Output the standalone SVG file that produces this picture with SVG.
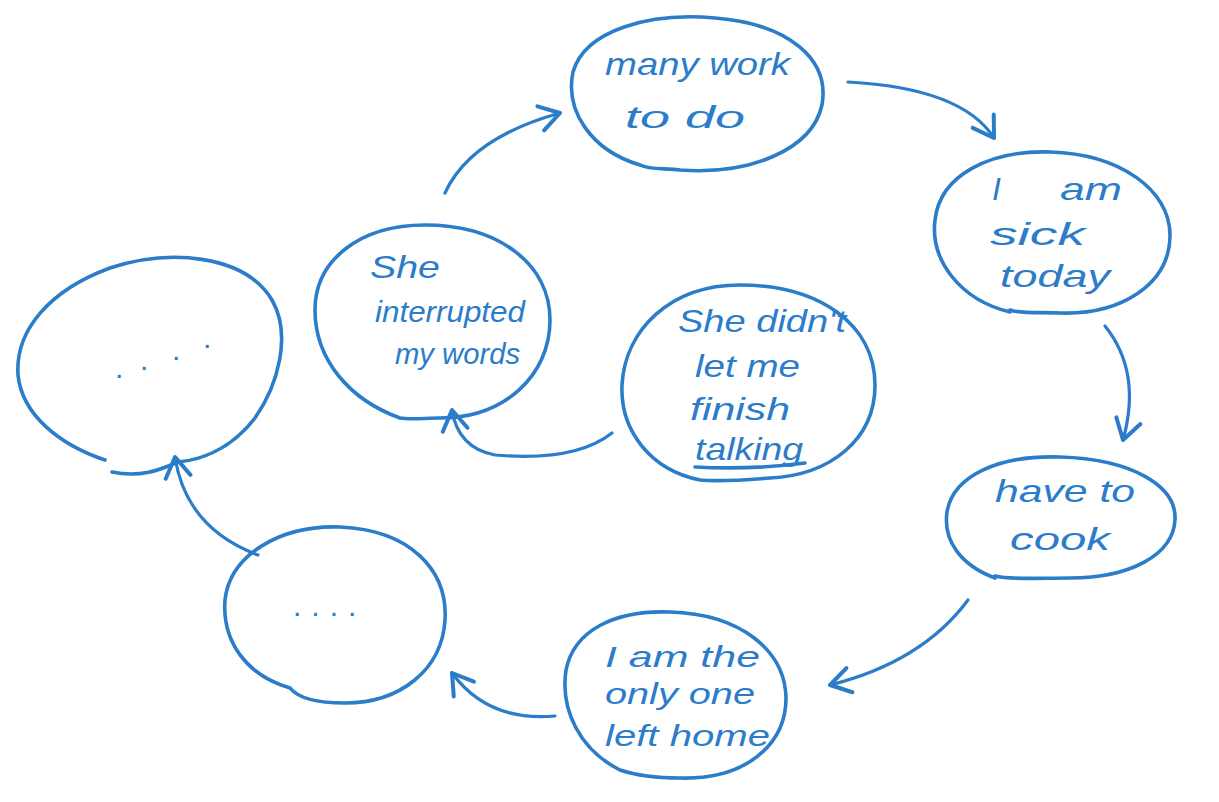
<svg xmlns="http://www.w3.org/2000/svg" width="1219" height="802" viewBox="0 0 1219 802">
<defs>
<marker id="arr" markerWidth="30" markerHeight="30" refX="0" refY="0" viewBox="-20 -12 24 24" markerUnits="userSpaceOnUse" orient="auto">
<path d="M-16,-10 L0,0 L-16,10" fill="none" stroke="#2b7cc9" stroke-width="3.2" stroke-linecap="round" stroke-linejoin="round"/>
</marker>
<style>
.n{fill:none;stroke:#2b7cc9;stroke-width:3.6;stroke-linecap:round;stroke-linejoin:round}
.c{fill:none;stroke:#2b7cc9;stroke-width:3.2;stroke-linecap:round;marker-end:url(#arr)}
.t{font-family:"Liberation Sans",Arial,sans-serif;font-style:italic;fill:#2b7cc9;font-size:32px}
.s{font-size:30px}
.d{font-family:"Liberation Sans",Arial,sans-serif;fill:#2b7cc9;font-size:30px}
</style>
</defs>
<rect width="1219" height="802" fill="#ffffff"/>
<g id="connectors">
<path class="c" d="M445,193 Q470,138 560,113"/>
<path class="c" d="M848,82 Q962,88 994,138"/>
<path class="c" d="M1105,326 Q1142,372 1123,440"/>
<path class="c" d="M968,600 Q922,662 830,685"/>
<path class="c" d="M555,716 Q488,722 452,673"/>
<path class="c" d="M258,555 Q186,528 175,457"/>
<path class="c" d="M612,433 Q575,462 495,455 Q458,448 452,410"/>
</g>
<g id="node-many-work">
<path class="n" d="M640,165 C590,150 565,110 573,72 C585,30 650,12 715,18 C790,24 830,60 822,105 C812,150 750,175 680,170 C665,168 650,170 640,165"/>
<text class="t" x="605" y="75" textLength="185" lengthAdjust="spacingAndGlyphs">many work</text>
<text class="t" x="625" y="128" textLength="120" lengthAdjust="spacingAndGlyphs">to do</text>
</g>
<g id="node-sick">
<path class="n" d="M1010,312 C960,300 930,260 935,220 C940,175 990,150 1050,152 C1120,154 1170,190 1170,235 C1170,285 1120,315 1060,313 C1040,312 1020,314 1010,310"/>
<text class="t" x="992" y="200">I</text>
<text class="t" x="1060" y="200" textLength="62" lengthAdjust="spacingAndGlyphs">am</text>
<text class="t" x="990" y="245" textLength="95" lengthAdjust="spacingAndGlyphs">sick</text>
<text class="t" x="1000" y="287" textLength="110" lengthAdjust="spacingAndGlyphs">today</text>
</g>
<g id="node-cook">
<path class="n" d="M995,578 C960,565 943,540 947,512 C953,475 1000,455 1060,457 C1130,459 1177,485 1175,520 C1173,555 1130,578 1070,578 C1040,578 1010,580 995,576"/>
<text class="t" x="995" y="502" textLength="140" lengthAdjust="spacingAndGlyphs">have to</text>
<text class="t" x="1010" y="550" textLength="100" lengthAdjust="spacingAndGlyphs">cook</text>
</g>
<g id="node-only-one">
<path class="n" d="M620,770 C580,750 560,710 566,670 C574,630 615,610 670,612 C740,614 785,650 786,698 C786,745 745,780 680,778 C655,778 635,775 620,770"/>
<text class="t s" x="605" y="667" textLength="155" lengthAdjust="spacingAndGlyphs">I am the</text>
<text class="t s" x="605" y="704" textLength="150" lengthAdjust="spacingAndGlyphs">only one</text>
<text class="t s" x="605" y="746" textLength="165" lengthAdjust="spacingAndGlyphs">left home</text>
</g>
<g id="node-dots-small">
<path class="n" d="M290,688 C245,675 222,640 225,600 C230,555 280,525 340,527 C410,530 448,570 445,620 C442,670 400,703 345,703 C315,703 298,698 290,688"/>
<text class="d" x="293" y="616" letter-spacing="10">....</text>
</g>
<g id="node-dots-large">
<path class="n" d="M105,460 C60,445 22,415 18,375 C15,330 50,290 110,268 C170,248 245,255 272,300 C292,335 278,385 255,418 C230,450 200,460 178,462 C160,470 140,478 112,472"/>
<text class="d" x="115" y="378">.</text>
<text class="d" x="140" y="370">.</text>
<text class="d" x="172" y="360">.</text>
<text class="d" x="203" y="348">.</text>
</g>
<g id="node-interrupted">
<path class="n" d="M400,418 C350,400 315,360 315,310 C315,260 360,225 425,225 C500,225 550,265 550,320 C550,375 505,418 440,418 C425,418 410,420 400,418"/>
<text class="t" x="370" y="278" textLength="70" lengthAdjust="spacingAndGlyphs">She</text>
<text class="t s" x="375" y="322" textLength="150" lengthAdjust="spacingAndGlyphs">interrupted</text>
<text class="t s" x="395" y="364" textLength="125" lengthAdjust="spacingAndGlyphs">my words</text>
</g>
<g id="node-didnt">
<path class="n" d="M700,480 C650,470 620,430 622,385 C625,330 670,285 740,285 C820,285 875,325 875,385 C875,440 830,475 770,478 C745,480 720,482 700,480"/>
<text class="t" x="678" y="332" textLength="168" lengthAdjust="spacingAndGlyphs">She didn't</text>
<text class="t" x="695" y="377" textLength="105" lengthAdjust="spacingAndGlyphs">let me</text>
<text class="t" x="690" y="420" textLength="100" lengthAdjust="spacingAndGlyphs">finish</text>
<text class="t" x="695" y="460" textLength="108" lengthAdjust="spacingAndGlyphs">talking</text>
<path class="n" d="M695,467 Q750,470 805,463" stroke-width="2.5"/>
</g>
</svg>
